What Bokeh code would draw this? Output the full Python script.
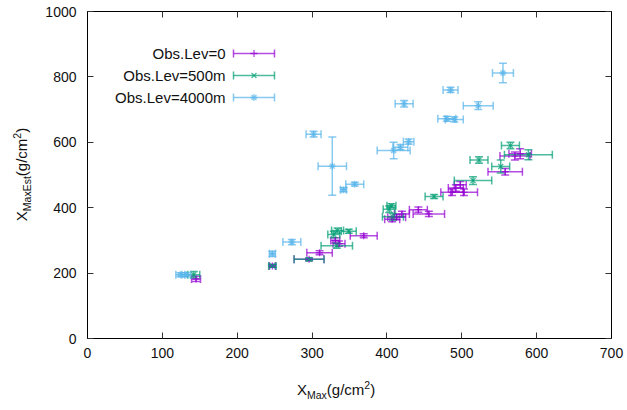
import math
from bokeh.plotting import figure
from bokeh.models import (ColumnDataSource, Whisker, TeeHead, Range1d, FixedTicker,
                          LinearAxis, Label, Div)
from bokeh.layouts import row, column
from bokeh.embed import file_html
from bokeh.resources import INLINE

# ---------------- data ----------------
series_names = ["Obs.Lev=0", "Obs.Lev=500m", "Obs.Lev=4000m"]
series_colors = ["#9400d3", "#009e73", "#56b4e9"]
series_markers = ["cross", "x", "asterisk"]

lev0_x = [145, 247, 296, 310, 331, 336, 369, 407, 413, 420, 442, 456, 487, 492, 498, 503, 558, 571, 578]
lev0_y = [182, 222, 242, 262, 300, 290, 314, 365, 371, 381, 394, 381, 447, 460, 470, 447, 510, 558, 565]
lev0_xerr = [6, 4, 20, 17, 6, 8, 18, 10, 12, 10, 12, 21, 15, 10, 8, 18, 23, 20, 15]
lev0_yerr = [8, 4, 4, 6, 8, 8, 6, 8, 8, 8, 8, 8, 10, 10, 10, 10, 10, 12, 15]

lev500_x = [142, 247, 296, 333, 329, 334, 349, 403, 406, 408, 463, 515, 523, 552, 565, 589]
lev500_y = [195, 222, 242, 284, 318, 330, 328, 395, 406, 372, 434, 483, 546, 526, 590, 562]
lev500_xerr = [8, 5, 20, 21, 8, 8, 10, 8, 6, 14, 12, 25, 12, 12, 12, 32]
lev500_yerr = [10, 4, 4, 8, 10, 8, 6, 10, 6, 10, 6, 12, 10, 20, 10, 15]

lev4000_x = [124, 132, 247, 273, 302, 327, 342, 357, 409, 418, 423, 429, 480, 490, 485, 522, 555]
lev4000_y = [195, 195, 259, 295, 625, 527, 455, 472, 575, 585, 718, 602, 672, 670, 760, 712, 812]
lev4000_xerr = [6, 6, 4, 12, 10, 19, 4, 12, 22, 10, 12, 7, 12, 12, 10, 20, 14]
lev4000_yerr = [6, 6, 8, 8, 9, 89, 6, 6, 25, 8, 10, 8, 8, 8, 8, 12, 30]

x_ticks = [0, 100, 200, 300, 400, 500, 600, 700]
y_ticks = [0, 200, 400, 600, 800, 1000]

x_title = ("X", "Max", "(g/cm", "2", ")")
y_title = ("X", "MaxEst", "(g/cm", "2", ")")

# ---------------- layout constants ----------------
W, H = 627, 410
YDIV_W = 40            # width of the left strip holding the y title
XDIV_H = 30            # height of the bottom strip holding the x title
FL, FR, FT, FB = 87, 611, 11, 338   # frame edges in page pixels
XMIN, XMAX, YMIN, YMAX = 0, 700, 0, 1000
FONT = "Liberation Sans"
ALPHA = 0.7

PW, PH = W - YDIV_W, H - XDIV_H


def px2x(px):
    return XMIN + (px - FL) * (XMAX - XMIN) / (FR - FL)


def py2y(py):
    return YMIN + (FB - py) * (YMAX - YMIN) / (FB - FT)


p = figure(width=PW, height=PH, x_range=Range1d(XMIN, XMAX), y_range=Range1d(YMIN, YMAX),
           output_backend="svg", toolbar_location=None,
           min_border_left=FL - YDIV_W, min_border_right=W - FR, min_border_top=FT,
           min_border_bottom=PH - FB, margin=0)
p.grid.visible = False
p.outline_line_color = "black"
p.outline_line_width = 1
p.background_fill_color = "white"
p.border_fill_color = "white"

for ax, ticks in ((p.xaxis[0], x_ticks), (p.yaxis[0], y_ticks)):
    ax.ticker = FixedTicker(ticks=ticks)
    ax.major_tick_in = 6
    ax.major_tick_out = 0
    ax.minor_tick_in = 0
    ax.minor_tick_out = 0
    ax.axis_line_color = "black"
    ax.major_tick_line_color = "#333333"
    ax.major_label_text_font = FONT
    ax.major_label_text_font_size = "14px"
    ax.major_label_text_color = "#111111"
p.xaxis.major_label_standoff = 9
p.yaxis.major_label_standoff = 11

for loc, ticks in (("right", y_ticks), ("above", x_ticks)):
    ax = LinearAxis(ticker=FixedTicker(ticks=ticks),
                    major_label_overrides={t: "" for t in ticks},
                    major_label_text_font_size="1px",
                    major_label_standoff=0, major_tick_in=6, major_tick_out=0,
                    minor_tick_in=0, minor_tick_out=0, axis_line_color="black",
                    major_tick_line_color="#333333")
    p.add_layout(ax, loc)


def add_errorbars(xs, ys, xe, ye, color, marker):
    src = ColumnDataSource(dict(
        x=xs, y=ys,
        xl=[a - e for a, e in zip(xs, xe)], xu=[a + e for a, e in zip(xs, xe)],
        yl=[a - e for a, e in zip(ys, ye)], yu=[a + e for a, e in zip(ys, ye)]))
    style = dict(line_color=color, line_alpha=ALPHA, line_width=1.5)
    wx = Whisker(source=src, base="y", lower="xl", upper="xu", dimension="width",
                 upper_head=TeeHead(size=8, **style), lower_head=TeeHead(size=8, **style),
                 **style)
    wy = Whisker(source=src, base="x", lower="yl", upper="yu", dimension="height",
                 upper_head=TeeHead(size=8, **style), lower_head=TeeHead(size=8, **style),
                 **style)
    p.add_layout(wx)
    p.add_layout(wy)
    p.scatter("x", "y", source=src, marker=marker, size=7, line_color=color,
              line_alpha=ALPHA, line_width=1.3)


all_series = [
    (lev0_x, lev0_y, lev0_xerr, lev0_yerr),
    (lev500_x, lev500_y, lev500_xerr, lev500_yerr),
    (lev4000_x, lev4000_y, lev4000_xerr, lev4000_yerr),
]
for (xs, ys, xe, ye), c, m in zip(all_series, series_colors, series_markers):
    add_errorbars(xs, ys, xe, ye, c, m)

# ---------------- legend (gnuplot style: text then sample) ----------------
leg_rows_py = [53, 75, 97]
for name, c, m, py in zip(series_names, series_colors, series_markers, leg_rows_py):
    yy = py2y(py)
    p.add_layout(Label(x=px2x(225), y=yy, text=name, text_align="right",
                       text_baseline="middle", text_font=FONT, text_font_size="15px",
                       text_color="#111111"))
    src = ColumnDataSource(dict(y=[yy], xl=[px2x(233)], xu=[px2x(274)], x=[px2x(253.5)]))
    style = dict(line_color=c, line_alpha=ALPHA, line_width=1.5)
    p.add_layout(Whisker(source=src, base="y", lower="xl", upper="xu", dimension="width",
                         upper_head=TeeHead(size=8, **style),
                         lower_head=TeeHead(size=8, **style), **style))
    p.scatter("x", "y", source=src, marker=m, size=7, line_color=c, line_alpha=ALPHA,
              line_width=1.3)


# ---------------- axis titles (real text with sub/superscripts) ----------------
def rich(parts):
    base, sub, mid, sup, end = parts
    return (f'{base}<span style="font-size:10.5px;position:relative;top:3.5px">{sub}</span>'
            f'{mid}<span style="font-size:10.5px;position:relative;top:-6px">{sup}</span>{end}')


TXT = f"font-family:'{FONT}';font-size:15px;color:#111111;white-space:nowrap;line-height:1;"

ydiv = Div(width=YDIV_W, height=H, margin=0, text=(
    f'<div style="width:44px;height:{FT + FB}px;display:flex;align-items:center;'
    f'justify-content:center;overflow:visible;">'
    f'<div style="{TXT}transform:rotate(-90deg);">{rich(y_title)}</div></div>'))

xdiv = Div(width=PW, height=XDIV_H, margin=0, text=(
    f'<div style="width:{PW}px;height:{XDIV_H}px;position:relative;">'
    f'<div style="{TXT}padding-left:{297 - YDIV_W}px;padding-top:2px;">{rich(x_title)}</div></div>'))

layout = row(ydiv, column(p, xdiv, spacing=0), spacing=0)

open("out.html", "w").write(file_html(layout, INLINE))
